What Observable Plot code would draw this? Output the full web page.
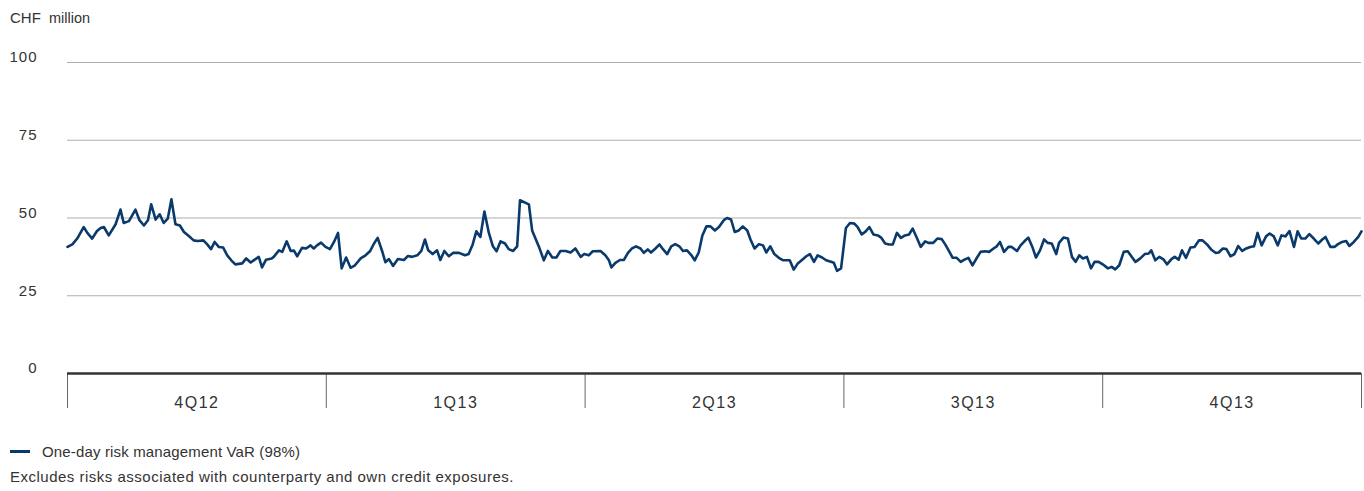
<!DOCTYPE html>
<html>
<head>
<meta charset="utf-8">
<script src="https://cdn.jsdelivr.net/npm/d3@7"></script>
<script src="https://cdn.jsdelivr.net/npm/@observablehq/plot@0.6"></script>
<style>
  body { margin: 0; background: #fff; font-family: "Liberation Sans", Arial, sans-serif; color: #333; }
  #wrap { width: 1364px; height: 491px; position: relative; overflow: hidden; }
  #unit { position: absolute; left: 10px; top: 9px; font-size: 15px; color: #333; }
  #unit .m { font-size: 14.5px; margin-left: 4px; }
  #chart { position: absolute; left: 0; top: 36px; }
  #chart svg text { letter-spacing: 1px; }
  #chart svg g.qlab text { font-size: 16px; letter-spacing: 1.5px; }
  #legend { position: absolute; left: 10px; top: 443px; font-size: 15px; letter-spacing: 0.15px; color: #333; display: flex; align-items: center; }
  #legend .sw { width: 20px; height: 2.5px; background: #0a3a6b; margin-right: 12px; }
  #note { position: absolute; left: 10px; top: 468px; font-size: 15px; letter-spacing: 0.5px; color: #333; }
</style>
</head>
<body>
<div id="wrap">
  <div id="unit">CHF <span class="m">million</span></div>
  <div id="chart"></div>
  <div id="legend"><span class="sw"></span><span>One-day risk management VaR (98%)</span></div>
  <div id="note">Excludes risks associated with counterparty and own credit exposures.</div>
</div>
<script>
// Trading-day position (0 = start of 4Q12, 64 days per quarter) and VaR in CHF million
const days = [
  0.0,1.2,2.4,4.0,4.9,6.1,7.3,8.2,9.0,10.2,11.9,13.1,13.9,15.2,16.8,17.8,18.9,19.9,20.7,21.8,
  22.8,23.8,24.8,25.7,26.7,27.8,28.8,30.0,31.2,32.2,33.6,34.5,35.5,36.4,37.4,38.5,39.5,40.5,41.5,43.2,
  44.2,45.3,46.3,47.3,48.1,49.1,50.5,51.0,52.3,53.1,54.2,55.2,56.0,56.8,58.0,59.0,60.1,60.9,61.7,62.7,
  63.8,64.9,
  65.9,66.9,67.8,68.9,70.0,71.1,72.5,73.7,74.8,75.8,76.7,77.8,78.6,79.5,80.5,81.7,83.2,84.2,85.2,86.5,
  87.5,88.4,89.2,90.3,91.4,92.2,93.2,94.3,95.4,96.8,98.3,99.2,100.2,101.1,102.1,103.1,104.2,105.2,106.1,107.1,
  108.2,109.1,110.2,111.2,111.9,114.1,114.9,116.6,117.8,118.8,119.9,120.9,121.9,123.2,124.4,125.6,
  126.9,127.8,128.9,129.9,131.8,133.0,133.9,134.5,135.5,136.6,137.6,138.6,139.6,140.6,141.7,142.5,143.5,144.3,
  145.4,146.4,147.3,148.3,149.3,150.3,151.3,152.2,153.2,154.3,155.1,156.1,157.0,158.0,159.0,160.1,161.1,162.3,
  163.1,164.1,165.0,166.0,167.0,168.1,168.9,169.9,171.0,172.0,172.8,173.8,174.8,175.9,177.0,178.6,179.6,180.6,
  181.7,182.7,183.6,184.6,185.5,186.6,187.6,188.8,189.5,190.3,191.3,
  192.5,193.5,194.6,195.4,196.4,197.4,198.3,199.3,200.4,201.2,202.2,203.2,204.1,205.1,206.1,207.1,208.1,209.0,
  210.0,211.0,212.1,212.9,214.1,215.1,216.2,217.2,218.1,218.9,219.9,220.9,221.8,222.8,223.8,224.7,225.8,226.9,
  227.9,229.0,229.8,230.6,231.6,232.7,233.5,234.8,235.7,236.7,237.6,238.6,239.5,240.5,241.5,242.4,243.4,244.5,
  245.2,246.3,247.4,248.4,249.3,250.2,251.1,252.1,253.1,254.0,255.0,256.0,257.3,
  258.2,259.1,260.1,261.2,262.2,263.3,264.1,265.3,266.4,267.4,268.0,269.0,270.0,271.1,271.9,273.0,273.8,274.8,
  275.6,276.6,277.7,278.7,279.8,280.7,281.8,282.8,283.9,284.7,285.7,286.6,287.6,288.6,289.5,290.5,291.5,292.5,
  293.4,294.3,295.3,296.4,297.3,298.3,299.3,300.2,301.2,302.2,303.3,304.2,305.1,306.1,307.1,308.2,309.3,310.3,
  311.1,312.3,313.3,314.2,315.2,316.2,317.0,318.1,319.2,320.0
];
const varValues = [
  40.7,41.5,43.4,47.1,45.2,43.4,45.8,46.8,47.1,44.4,48.0,52.7,48.4,49.0,52.7,49.3,47.6,49.3,54.4,49.5,
  51.2,48.4,49.8,56.0,48.0,47.6,45.5,44.2,42.8,42.6,42.8,41.6,40.0,42.3,40.7,40.5,38.0,36.4,35.1,35.4,
  37.0,35.7,36.6,37.5,34.1,36.6,37.0,37.5,39.6,39.1,42.5,39.4,39.5,37.7,40.4,40.2,41.2,40.2,41.2,42.1,
  40.7,40.0,
  42.3,45.2,33.8,37.3,34.0,34.8,37.0,38.0,39.3,41.8,43.6,39.4,35.8,36.8,34.6,36.8,36.5,37.8,37.5,38.0,
  39.4,43.1,39.6,38.4,39.6,36.5,39.4,37.7,38.8,38.8,38.0,38.4,41.5,45.7,43.9,52.1,45.2,40.9,39.3,42.5,
  41.8,40.0,39.4,40.9,55.7,54.4,46.0,40.7,36.4,39.4,37.3,37.3,39.4,39.4,38.9,40.2,
  37.5,38.4,38.0,39.3,39.4,38.0,36.4,34.1,35.6,36.5,36.5,38.8,40.2,40.9,40.2,38.8,39.9,38.9,
  40.2,41.5,39.9,38.4,40.9,41.6,40.9,39.4,39.6,38.0,36.4,38.9,44.4,47.3,47.3,46.0,47.1,49.3,
  50.0,49.5,45.5,46.0,47.3,46.0,43.1,40.2,41.6,41.2,38.9,40.9,38.4,37.2,36.4,36.4,33.4,35.4,
  36.6,37.7,38.4,35.9,38.0,37.3,36.4,35.9,35.6,33.0,33.8,
  46.8,48.4,48.2,47.1,44.7,45.7,47.1,44.7,44.4,43.7,41.8,41.5,41.5,45.2,43.6,44.4,44.7,46.6,
  43.7,40.7,42.5,42.0,42.0,43.4,43.2,41.2,39.1,37.2,37.2,35.9,36.6,37.2,34.8,36.8,39.1,39.3,
  39.1,40.2,40.9,42.3,39.1,40.7,40.7,39.4,41.2,42.6,43.7,40.7,37.3,39.6,43.1,42.0,41.8,38.4,
  42.0,43.7,43.4,37.5,35.9,38.0,37.0,37.5,33.8,35.9,35.9,35.1,33.8,
  34.3,33.5,34.8,39.1,39.3,37.3,35.9,37.0,38.4,38.6,39.6,36.4,37.5,36.6,35.1,36.8,37.5,36.6,
  39.6,37.2,40.5,40.7,42.8,42.8,41.5,39.9,38.8,38.9,40.2,40.0,37.7,38.4,41.0,39.4,40.2,40.7,
  40.9,45.2,41.2,44.1,45.0,44.1,41.2,44.4,44.1,45.8,40.7,45.7,43.4,43.4,44.8,43.4,41.8,43.1,
  43.9,40.7,40.7,41.6,42.3,42.6,41.0,42.3,43.9,45.7
];
const quarterLabels = ["4Q12", "1Q13", "2Q13", "3Q13", "4Q13"];
const quarterBounds = [0, 64, 128, 192, 256, 320];
const yTicks = [0, 25, 50, 75, 100];

const data = days.map((d, i) => ({day: d, value: varValues[i]}));
const quarterMids = quarterLabels.map((_, i) => (quarterBounds[i] + quarterBounds[i + 1]) / 2);

const chart = Plot.plot({
  width: 1364,
  height: 395,
  marginLeft: 67,
  marginRight: 3,
  marginTop: 26,
  marginBottom: 58,
  x: {domain: [0, 320]},
  y: {domain: [0, 100]},
  style: {fontFamily: "'Liberation Sans', Arial, sans-serif", fontSize: "15px", color: "#333", background: "#fff"},
  marks: [
    Plot.gridY(yTicks, {stroke: "#b0adaa", strokeOpacity: 1, strokeWidth: 1}),
    Plot.axisY(yTicks, {tickSize: 0, tickPadding: 30, dy: -5, label: null, fill: "#333"}),
    Plot.axisX(quarterBounds, {tickSize: 35, tickFormat: () => "", stroke: "#666", label: null}),
    Plot.axisX(quarterMids, {tickSize: 0, tickPadding: 23, label: null, fill: "#333", className: "qlab",
      tickFormat: d => quarterLabels[quarterMids.indexOf(d)]}),
    Plot.ruleY([0], {stroke: "#333", strokeWidth: 2.5}),
    Plot.line(data, {x: "day", y: "value", stroke: "#0a3a6b", strokeWidth: 2.6, strokeLinejoin: "round"})
  ]
});
document.getElementById("chart").appendChild(chart);
</script>
</body>
</html>
